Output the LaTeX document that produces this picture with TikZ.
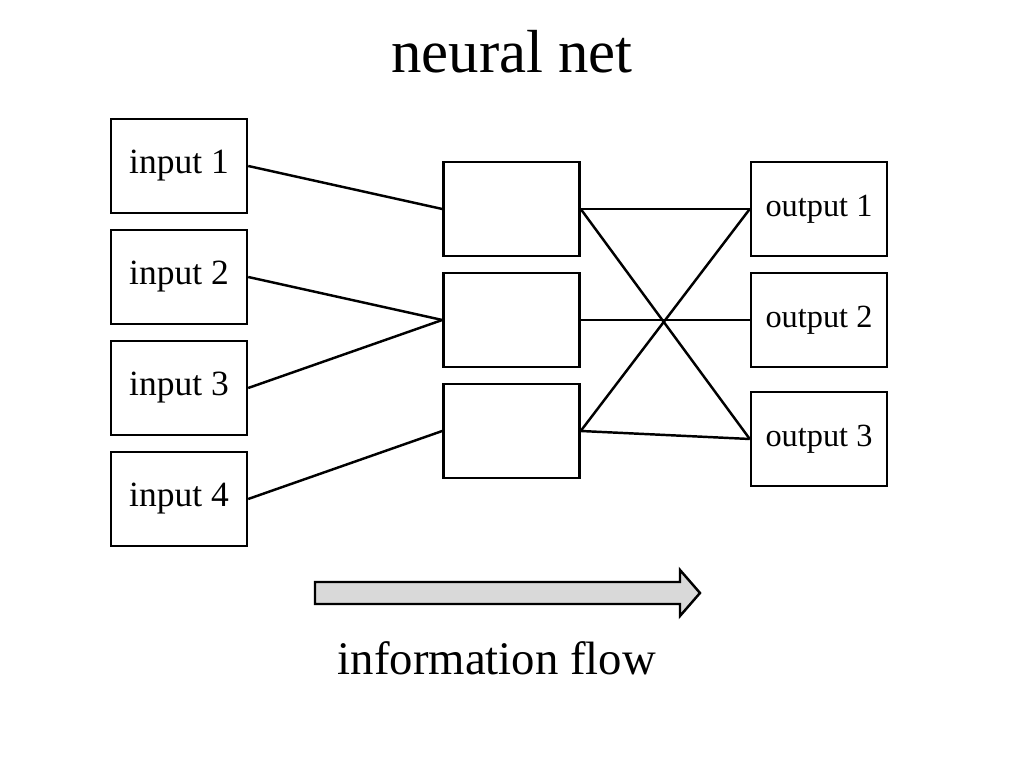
\documentclass[tikz,border=0pt]{standalone}
\usepackage{fontspec}
\setmainfont{Liberation Serif}
\begin{document}
\begin{tikzpicture}[every path/.style={line width=0.7pt},
  unit/.style={draw,minimum width=1.36cm,minimum height=0.94cm,inner sep=0pt,font=\fontsize{10.1pt}{12pt}\selectfont},
  outunit/.style={unit,font=\fontsize{9.2pt}{11pt}\selectfont}]
\useasboundingbox (0,0) rectangle (10.24,7.68);
\node (title) at (5.12, 7.16) {\fontsize{17.3pt}{20pt}\selectfont neural net};
\node[unit] (in1) at (1.79, 6.02) {input 1};
\node[unit] (in2) at (1.79, 4.91) {input 2};
\node[unit] (in3) at (1.79, 3.80) {input 3};
\node[unit] (in4) at (1.79, 2.69) {input 4};
\node[unit] (h1) at (5.115, 5.59) {};
\node[unit] (h2) at (5.115, 4.48) {};
\node[unit] (h3) at (5.115, 3.37) {};
\node[outunit] (out1) at (8.19, 5.59) {output 1};
\node[outunit] (out2) at (8.19, 4.48) {output 2};
\node[outunit] (out3) at (8.19, 3.29) {output 3};
\draw (in1.east) to (h1.west);
\draw (in2.east) to (h2.west);
\draw (in3.east) to (h2.west);
\draw (in4.east) to (h3.west);
\draw (h1.east) to (out1.west);
\draw (h1.east) to (out3.west);
\draw (h2.east) to (out2.west);
\draw (h3.east) to (out1.west);
\draw (h3.east) to (out3.west);
% arrow
\draw[fill=black!15] (3.15,1.86) -- (6.80,1.86) -- (6.80,1.98) -- (7.00,1.75)
  -- (6.80,1.52) -- (6.80,1.64) -- (3.15,1.64) -- cycle;
\node (flow) at (4.97, 1.10) {\fontsize{13.3pt}{16pt}\selectfont information flow};
\end{tikzpicture}
\end{document}
